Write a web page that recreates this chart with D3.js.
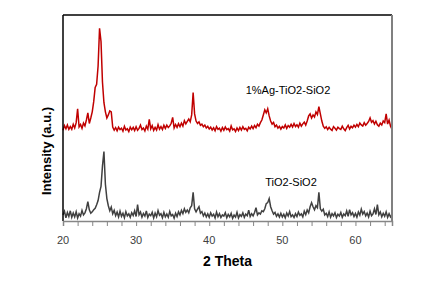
<!DOCTYPE html>
<html>
<head>
<meta charset="utf-8">
<script src="https://cdn.jsdelivr.net/npm/d3@7"></script>
<style>
  body { margin: 0; background: #fff; }
  text { font-family: "Liberation Sans", Arial, sans-serif; }
</style>
</head>
<body>
<svg width="435" height="285"></svg>
<script>
// 2-theta grid: 20 to 65 in 0.2 degree steps
const thetaStart = 20, thetaStep = 0.2;

// intensity (a.u.), one value per step
const agTiSi = [
  44.5, 46.8, 45.2, 47.1, 44.9, 46.3, 45.0, 47.4, 45.6, 48.2,
  55.0, 46.1, 47.3, 45.4, 48.0, 46.6, 49.5, 53.0, 47.8, 50.5,
  53.5, 58.5, 65.5, 67.0, 76.0, 94.5, 88.0, 68.0, 58.0, 53.5,
  50.5, 52.0, 54.0, 53.5, 46.0, 44.5, 45.8, 44.2, 46.0, 44.8,
  45.5, 44.0, 46.4, 44.6, 45.2, 43.8, 46.0, 44.7, 45.9, 44.3,
  46.2, 44.5, 45.4, 47.0, 44.8, 45.6, 44.1, 46.5, 45.0, 49.8,
  45.2, 46.8, 44.4, 45.9, 44.6, 47.2, 45.0, 46.3, 44.8, 46.9,
  45.4, 47.0, 45.8, 46.6, 47.9, 50.8, 45.6, 47.3, 45.9, 47.7,
  46.2, 48.0, 46.5, 49.2, 47.6, 48.8, 50.0, 48.6, 52.0, 63.0,
  52.5, 49.0, 47.8, 48.6, 46.9, 47.5, 46.2, 47.0, 45.6, 46.4,
  45.1, 46.0, 44.6, 45.7, 44.2, 46.3, 44.9, 45.5, 44.0, 45.8,
  44.5, 46.1, 44.8, 45.3, 44.1, 46.6, 44.7, 45.2, 43.9, 45.6,
  44.3, 45.9, 44.6, 46.2, 44.9, 45.4, 44.2, 46.0, 45.1, 46.5,
  45.3, 46.8, 45.7, 47.4, 46.5, 48.2, 49.5, 52.0, 54.5, 53.0,
  55.0, 51.5, 49.0, 47.5, 48.3, 46.2, 47.0, 45.5, 46.4, 45.0,
  46.3, 45.6, 47.1, 45.4, 46.8, 46.0, 47.4, 46.1, 47.8, 46.3,
  47.2, 46.0, 48.0, 46.5, 47.6, 48.5, 47.0, 49.0, 51.5, 52.5,
  50.5, 52.0, 51.0, 53.5, 52.2, 56.0, 52.5, 49.0, 46.5, 45.4,
  46.2, 44.8, 45.9, 45.0, 44.4, 46.3, 45.5, 44.6, 46.0, 45.3,
  44.9, 46.5, 45.2, 44.3, 45.8, 46.9, 45.1, 46.4, 45.7, 47.0,
  46.0, 47.3, 46.2, 48.0, 47.1, 46.5, 48.2, 47.0, 47.8, 48.8,
  50.5, 48.4, 49.2, 47.5, 48.9, 47.2, 46.5, 48.0, 47.1, 49.0,
  48.2, 52.5, 47.5, 49.5, 46.5, 45.0
];

const tiSi = [
  3.0, 4.8, 1.6, 4.2, 2.2, 5.0, 1.8, 3.9, 2.0, 4.5,
  1.5, 3.6, 2.4, 5.2, 3.0, 4.0, 6.0, 9.5, 5.5, 3.8,
  4.5, 5.5, 6.2, 8.0, 10.0, 14.0, 17.0, 27.0, 34.0, 18.0,
  11.0, 7.5, 5.0, 6.8, 3.5, 5.2, 2.6, 4.4, 2.0, 4.8,
  2.3, 3.8, 1.6, 4.6, 2.5, 3.5, 1.8, 4.1, 2.7, 5.0,
  2.2, 8.0, 3.0, 4.4, 1.9, 3.7, 2.4, 4.9, 1.7, 3.4,
  2.6, 4.3, 1.5, 3.9, 2.1, 5.1, 2.8, 3.6, 1.6, 4.2,
  2.0, 3.4, 1.8, 4.7, 2.5, 3.2, 1.4, 3.8, 2.2, 4.5,
  3.0, 5.2, 3.6, 6.0, 4.2, 5.4, 4.0, 6.5, 7.5, 14.0,
  6.0, 4.5, 5.8, 7.0, 3.8, 4.6, 2.5, 3.9, 2.0, 3.5,
  1.8, 4.0, 2.4, 3.3, 1.5, 4.4, 2.1, 3.6, 1.7, 3.0,
  2.4, 4.1, 1.6, 3.2, 2.0, 3.8, 1.3, 2.9, 1.9, 4.3,
  1.5, 3.1, 2.3, 4.0, 1.8, 3.4, 2.6, 5.3, 2.2, 3.6,
  2.5, 4.2, 6.5, 3.0, 4.0, 3.4, 5.0, 4.6, 6.0, 8.5,
  9.0, 11.0, 7.0, 5.0, 3.4, 4.2, 2.3, 3.5, 1.9, 3.8,
  2.0, 3.3, 1.6, 3.9, 2.4, 4.6, 2.1, 3.0, 1.7, 3.6,
  2.2, 4.4, 2.7, 3.5, 2.0, 4.8, 3.1, 5.4, 4.0, 7.0,
  9.0, 7.0, 5.5, 7.5, 6.5, 14.0, 6.0, 4.8, 5.8, 3.0,
  3.8, 2.2, 4.5, 1.9, 3.6, 2.5, 4.0, 1.7, 3.3, 2.4,
  4.2, 1.8, 3.5, 2.6, 4.9, 2.3, 5.6, 3.0, 4.1, 2.2,
  3.7, 1.9, 4.4, 2.8, 5.8, 3.4, 4.6, 2.5, 3.9, 2.0,
  4.8, 2.6, 3.5, 6.0, 3.2, 8.0, 3.0, 4.4, 2.1, 3.8,
  2.3, 4.5, 1.8, 3.6, 2.0, 3.0
];

const seriesNames = ["1%Ag-TiO2-SiO2", "TiO2-SiO2"];
const xTicks = [20, 30, 40, 50, 60];

const svg = d3.select("svg");
const pLeft = 63, pRight = 392, pTop = 15, pBottom = 221;

const x = d3.scaleLinear().domain([20, 65]).range([pLeft, pRight]);
const y = d3.scaleLinear().domain([0, 100]).range([pBottom, pTop + 2]);

const line = d3.line()
    .x((d, i) => x(thetaStart + i * thetaStep))
    .y(d => y(d));

// series lines
svg.append("path")
    .datum(tiSi)
    .attr("d", line)
    .attr("fill", "none")
    .attr("stroke", "#404040")
    .attr("stroke-width", 1.5);

svg.append("path")
    .datum(agTiSi)
    .attr("d", line)
    .attr("fill", "none")
    .attr("stroke", "#c00000")
    .attr("stroke-width", 1.5);

// plot area border: top and left black, right grey
svg.append("line").attr("x1", pLeft).attr("x2", pRight).attr("y1", pTop).attr("y2", pTop)
    .attr("stroke", "#000").attr("stroke-width", 1.5);
svg.append("line").attr("x1", pLeft).attr("x2", pLeft).attr("y1", pTop).attr("y2", pBottom)
    .attr("stroke", "#000").attr("stroke-width", 1.5);
svg.append("line").attr("x1", pRight).attr("x2", pRight).attr("y1", pTop).attr("y2", pBottom)
    .attr("stroke", "#808080").attr("stroke-width", 2);

// x axis with minor ticks every 2
const xAxis = svg.append("g")
    .attr("transform", `translate(0,${pBottom})`)
    .call(d3.axisBottom(x).tickValues(d3.range(20, 65, 2)).tickSize(5).tickFormat(""));
xAxis.select(".domain").attr("stroke", "#868686").attr("stroke-width", 1.5);
xAxis.selectAll(".tick line").attr("stroke", "#868686");

svg.selectAll(".xlabel")
    .data(xTicks)
    .enter().append("text")
    .attr("x", d => x(d))
    .attr("y", 244)
    .attr("text-anchor", "middle")
    .style("font-size", "11px")
    .style("fill", "#404040")
    .text(d => d);

// axis titles
svg.append("text")
    .attr("x", (pLeft + pRight) / 2)
    .attr("y", 266)
    .attr("text-anchor", "middle")
    .style("font-size", "14px")
    .style("font-weight", "bold")
    .text("2 Theta");

svg.append("text")
    .attr("transform", "translate(51,151) rotate(-90)")
    .attr("text-anchor", "middle")
    .style("font-size", "13px")
    .style("font-weight", "bold")
    .text("Intensity (a.u.)");

// series labels
svg.append("text")
    .attr("x", 288).attr("y", 94)
    .attr("text-anchor", "middle")
    .style("font-size", "11px")
    .text(seriesNames[0]);

svg.append("text")
    .attr("x", 291).attr("y", 186)
    .attr("text-anchor", "middle")
    .style("font-size", "11px")
    .text(seriesNames[1]);
</script>
</body>
</html>
